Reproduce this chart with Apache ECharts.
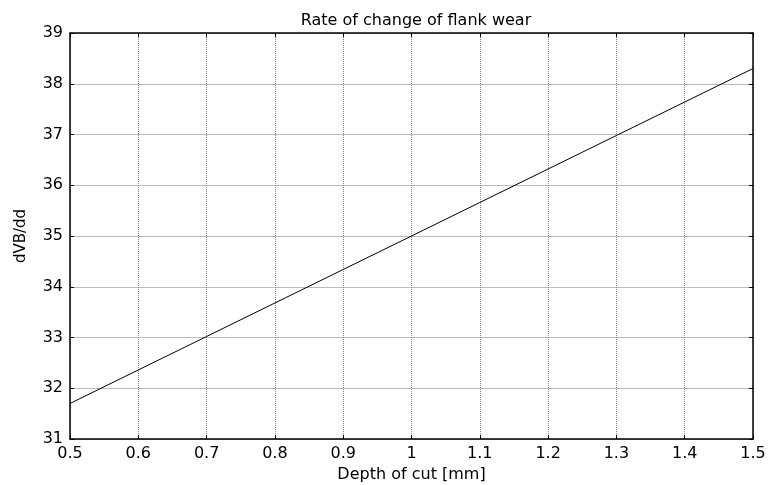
<!DOCTYPE html>
<html>
<head>
<meta charset="utf-8">
<script src="https://cdn.jsdelivr.net/npm/echarts@6/dist/echarts.min.js"></script>
<style>
  html, body { margin: 0; padding: 0; background: #fff; }
  #chart { width: 769px; height: 485px; }
</style>
</head>
<body>
<div id="chart"></div>
<script>
// depth of cut [mm] and rate of change of flank wear
var depthOfCut = [0.5, 0.6, 0.7, 0.8, 0.9, 1.0, 1.1, 1.2, 1.3, 1.4, 1.5];
var dVBdd = [31.7, 32.36, 33.02, 33.68, 34.34, 35.0, 35.66, 36.32, 36.98, 37.64, 38.3];
var xTicks = [0.5, 0.6, 0.7, 0.8, 0.9, 1, 1.1, 1.2, 1.3, 1.4, 1.5];
var yTicks = [31, 32, 33, 34, 35, 36, 37, 38, 39];

var chart = echarts.init(document.getElementById('chart'));
var font = 'DejaVu Sans, Arial, sans-serif';

var pts = [];
for (var i = 0; i < depthOfCut.length; i++) {
	pts.push([depthOfCut[i], dVBdd[i]]);
}

var option = {
	animation: false,
	title: {
		text: 'Rate of change of flank wear',
		left: 411,
		textAlign: 'center',
		top: 8,
		textStyle: { fontFamily: font, fontSize: 16, fontWeight: 'normal', color: '#000' }
	},
	grid: { left: 70, right: 16, top: 33, bottom: 46, outerBoundsMode: 'none', containLabel: false },
	xAxis: [{
		type: 'value',
		min: xTicks[0], max: xTicks[xTicks.length - 1], interval: 0.1,
		name: 'Depth of cut [mm]',
		nameLocation: 'middle',
		nameGap: 24,
		nameTextStyle: { fontFamily: font, fontSize: 16, color: '#000' },
		axisLine: { lineStyle: { color: '#000', width: 1.5 } },
		axisTick: { inside: true, length: 4, lineStyle: { color: '#000' } },
		axisLabel: {
			fontFamily: font, fontSize: 16, color: '#000', margin: 7,
			formatter: function (v) { return String(Math.round(v * 10) / 10); }
		},
		splitLine: { show: true, lineStyle: { color: '#888', type: 'dotted', width: 1 } }
	}, {
		type: 'value', position: 'top',
		min: xTicks[0], max: xTicks[xTicks.length - 1], interval: 0.1,
		axisLine: { lineStyle: { color: '#000', width: 1.5 } },
		axisTick: { inside: true, length: 4, lineStyle: { color: '#000' } },
		axisLabel: { show: false },
		splitLine: { show: false }
	}],
	yAxis: [{
		type: 'value',
		min: yTicks[0], max: yTicks[yTicks.length - 1], interval: 1,
		name: 'dVB/dd',
		nameLocation: 'middle',
		nameGap: 41,
		nameTextStyle: { fontFamily: font, fontSize: 15, color: '#000' },
		axisLine: { show: true, lineStyle: { color: '#000', width: 1.5 } },
		axisTick: { show: true, inside: true, length: 4, lineStyle: { color: '#000' } },
		axisLabel: { fontFamily: font, fontSize: 16, color: '#000', margin: 7 },
		splitLine: { show: true, lineStyle: { color: '#bbb', width: 1 } }
	}, {
		type: 'value', position: 'right',
		min: yTicks[0], max: yTicks[yTicks.length - 1], interval: 1,
		axisLine: { show: true, lineStyle: { color: '#000', width: 1.5 } },
		axisTick: { show: true, inside: true, length: 4, lineStyle: { color: '#000' } },
		axisLabel: { show: false },
		splitLine: { show: false }
	}],
	series: [{
		type: 'line',
		data: pts,
		symbol: 'none',
		lineStyle: { color: '#000', width: 1 }
	}]
};
chart.setOption(option);
</script>
</body>
</html>
